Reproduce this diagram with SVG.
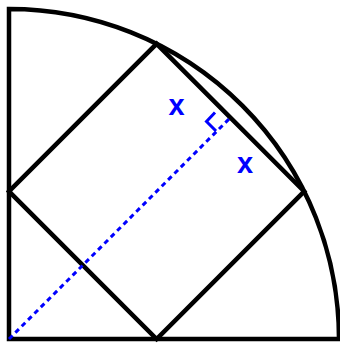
<svg xmlns="http://www.w3.org/2000/svg" width="340" height="343" viewBox="0 0 340 343">
<style>
.k{fill:none;stroke:#000;stroke-width:4.5;stroke-linejoin:miter}
.b{fill:none;stroke:#0000ff;stroke-width:3}
.t{font-family:"Liberation Sans",Arial,sans-serif;font-weight:bold;font-size:29px;fill:#0000ff;text-anchor:middle}
</style>
<rect width="340" height="343" fill="#fff"/>
<g id="quadrant">
<path class="k" d="M9,339 V9 A330,330 0 0 1 339,339 Z"/>
</g>
<g id="square">
<polygon class="k" points="9,191.4 156.6,43.8 304.2,191.4 156.6,339"/>
</g>
<g id="radius">
<line class="b" x1="9" y1="339" x2="230.4" y2="117.6" stroke-dasharray="5,4"/>
<polyline class="b" points="215,112.5 206.5,121.5 216,131"/>
</g>
<g id="labels">
<text class="t" x="176.5" y="115">x</text>
<text class="t" x="245" y="173">x</text>
</g>
</svg>
